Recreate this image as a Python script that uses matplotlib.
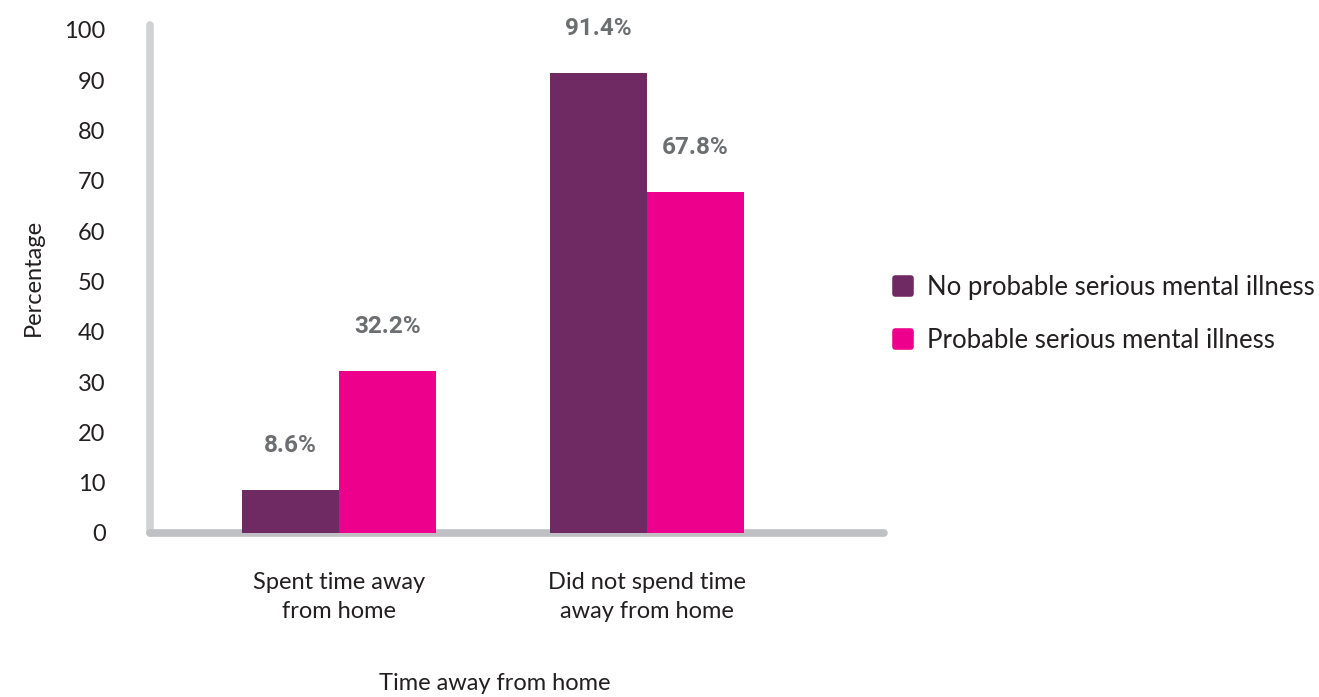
import matplotlib.pyplot as plt
import numpy as np
from matplotlib.lines import Line2D
from matplotlib.markers import MarkerStyle

plt.rcParams['font.family'] = ['Lato', 'DejaVu Sans']

categorias = ['Spent time away\nfrom home', 'Did not spend time\naway from home']
series = ['No probable serious mental illness', 'Probable serious mental illness']
no_smi = [8.6, 91.4]
smi = [32.2, 67.8]
colores = ['#6f2a63', '#ec008c']

fig = plt.figure(figsize=(13.19, 6.97), dpi=100)
ax = fig.add_axes([0.1137, 0.2353, 0.5565, 0.7217])

x = np.arange(len(categorias))
w = 0.315
for i, (vals, c) in enumerate(zip([no_smi, smi], colores)):
    pos = x + (i - 0.5) * w
    ax.bar(pos, vals, width=w, color=c, zorder=2)
    for p, v in zip(pos, vals):
        ax.annotate(f'{v}%', (p, v), xytext=(0, 32), textcoords='offset points',
                    ha='center', va='center', fontsize=17.5, fontweight='bold',
                    color='#6d6e71', family=['Roboto', 'DejaVu Sans'])

ax.set_xlim(-0.614, 1.77)
ax.set_ylim(0, 100)
ax.set_yticks(range(0, 101, 10))
ax.set_xticks(x)
ax.set_xticklabels(categorias, fontsize=17, color='#231f20', linespacing=1.45)
ax.tick_params(axis='y', length=0, pad=32, labelsize=17, labelcolor='#231f20')
ax.tick_params(axis='x', length=0, pad=28)
for s in ['top', 'right']:
    ax.spines[s].set_visible(False)
ax.spines['left'].set_color('#d1d2d4')
ax.spines['bottom'].set_color('#bfc0c4')
for s in ['left', 'bottom']:
    ax.spines[s].set_linewidth(5.5)
    ax.spines[s].set_capstyle('round')
    ax.spines[s].set_zorder(1)
ax.spines['left'].set_bounds(0, 101)

fig.text(33 / 1319, 1 - 277 / 697, 'Percentage', rotation=90,
         ha='center', va='center', fontsize=17, color='#231f20')
fig.text(495 / 1319, 1 - 684 / 697, 'Time away from home',
         ha='center', va='center', fontsize=17, color='#231f20')

handles = [Line2D([], [], marker=MarkerStyle('s', joinstyle='round'), linestyle='none',
                  markersize=11, markerfacecolor=c, markeredgecolor=c, markeredgewidth=4)
           for c in colores]
leg = fig.legend(handles, series, loc='center left', bbox_to_anchor=(0.657, 0.549),
                 frameon=False, handlelength=1.0, handletextpad=0.45,
                 labelspacing=1.1, labelcolor='#231f20', prop={'size': 18.5})

fig.savefig('out.png', dpi=100)
